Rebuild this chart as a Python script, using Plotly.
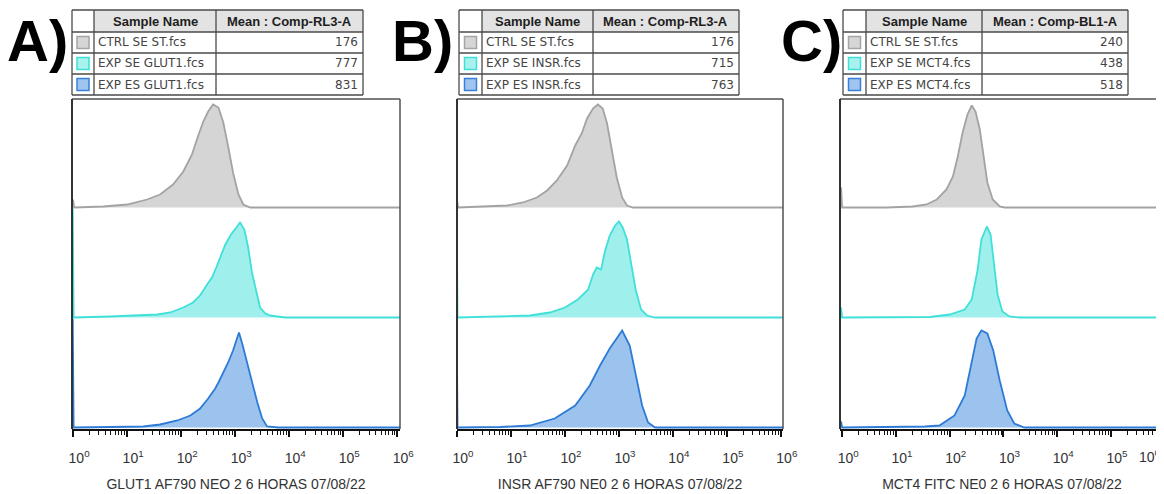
import plotly.graph_objects as go

OFF = 8                      # page body margin of the browser
W, H = 1164 - OFF, 494 - OFF

# ------------------------------------------------------------------ data
panel_letters = ["A)", "B)", "C)"]
axis_titles = ["GLUT1 AF790 NEO 2 6 HORAS 07/08/22",
               "INSR AF790 NE0 2 6 HORAS 07/08/22",
               "MCT4 FITC NE0 2 6 HORAS 07/08/22"]
mean_headers = ["Mean : Comp-RL3-A", "Mean : Comp-RL3-A", "Mean : Comp-BL1-A"]
names_A = ["CTRL SE ST.fcs", "EXP SE GLUT1.fcs", "EXP ES GLUT1.fcs"]
names_B = ["CTRL SE ST.fcs", "EXP SE INSR.fcs", "EXP ES INSR.fcs"]
names_C = ["CTRL SE ST.fcs", "EXP SE MCT4.fcs", "EXP ES MCT4.fcs"]
means_A = [176, 777, 831]
means_B = [176, 715, 763]
means_C = [240, 438, 518]

tick_exponents = [0, 1, 2, 3, 4, 5, 6]
tick_labels = ["10<sup>0</sup>", "10<sup>1</sup>", "10<sup>2</sup>", "10<sup>3</sup>",
               "10<sup>4</sup>", "10<sup>5</sup>", "10<sup>6</sup>"]

# histograms: log10 intensity (exponent) and height (relative count)
A_gray_e = [-0.02, 0.0, 0.02, 0.56, 1.0, 1.37, 1.61, 1.85, 2.04, 2.20, 2.31, 2.41, 2.50, 2.59,
            2.69, 2.78, 2.87, 2.96, 3.06, 3.15, 3.28, 6.2]
A_gray_h = [0, 8, 0, 1, 3, 8, 13, 23, 36, 53, 71, 86, 96, 103, 100, 85, 61, 35, 13, 3, 0, 0]
A_cyan_e = [-0.02, 0.01, 0.69, 1.24, 1.56, 1.80, 2.04, 2.22, 2.35, 2.48, 2.57, 2.65, 2.72, 2.81,
            2.91, 3.02, 3.09, 3.17, 3.24, 3.31, 3.39, 3.46, 3.56, 3.65, 3.78, 3.93, 6.2]
A_cyan_h = [200, 0, 1, 2, 3, 5, 10, 15, 22, 33, 40, 50, 60, 72, 82, 90, 95, 88, 70, 45, 25, 10,
            4, 2, 1, 0, 0]
A_blue_e = [-0.02, 0.01, 0.69, 1.30, 1.61, 1.93, 2.17, 2.35, 2.50, 2.63, 2.69, 2.78, 2.87, 2.96,
            3.07, 3.13, 3.22, 3.31, 3.41, 3.50, 3.59, 3.80, 6.2]
A_blue_h = [200, 0, 0.5, 1, 3, 7, 12, 19, 29, 39, 45, 55, 65, 77, 95, 84, 65, 45, 25, 9, 1, 0, 0]

B_gray_e = [-0.02, 0.0, 0.02, 0.57, 0.93, 1.22, 1.48, 1.67, 1.85, 2.04, 2.19, 2.31, 2.41, 2.52,
            2.61, 2.70, 2.78, 2.87, 2.96, 3.06, 3.15, 3.26, 6.2]
B_gray_h = [0, 8, 0, 1, 2, 5, 10, 17, 27, 42, 62, 74, 89, 99, 103, 99, 84, 57, 30, 10, 2, 0, 0]
B_cyan_e = [-0.02, 0.01, 1.35, 1.72, 2.00, 2.24, 2.43, 2.52, 2.59, 2.67, 2.74, 2.83, 2.93, 3.00,
            3.07, 3.15, 3.22, 3.31, 3.41, 3.52, 3.67, 6.2]
B_cyan_h = [200, 0, 2, 5, 10, 18, 28, 43, 50, 48, 66, 82, 92, 96, 90, 78, 56, 28, 8, 2, 0, 0]
B_blue_e = [-0.02, 0.01, 0.80, 1.35, 1.81, 2.19, 2.46, 2.65, 2.83, 2.94, 3.06, 3.20, 3.31, 3.43,
            3.54, 3.67, 6.2]
B_blue_h = [200, 0, 0.5, 2, 9, 22, 42, 62, 79, 88, 97, 82, 52, 22, 5, 0, 0]

C_gray_e = [-0.04, -0.02, 0.0, 0.83, 1.31, 1.57, 1.76, 1.94, 2.06, 2.15, 2.24, 2.33, 2.41, 2.48,
            2.56, 2.63, 2.70, 2.80, 2.93, 3.02, 6.2]
C_gray_h = [0, 20, 0, 0, 1, 3, 8, 18, 31, 51, 75, 93, 102, 96, 78, 51, 25, 8, 1, 0, 0]
C_cyan_e = [-0.04, -0.02, 0.0, 1.63, 2.00, 2.28, 2.41, 2.52, 2.59, 2.69, 2.76, 2.81, 2.89, 2.98,
            3.11, 3.30, 6.2]
C_cyan_h = [0, 10, 0, 0.5, 3, 8, 18, 48, 78, 91, 83, 58, 23, 6, 1, 0, 0]
C_blue_e = [-0.04, -0.02, 0.0, 1.07, 1.54, 1.81, 2.09, 2.28, 2.41, 2.50, 2.59, 2.70, 2.81, 2.93,
            3.07, 3.20, 3.39, 6.2]
C_blue_h = [0, 6, 0, 0.5, 1, 2, 12, 32, 67, 89, 97, 94, 77, 47, 17, 4, 0, 0]

# ------------------------------------------------------------------ styles
LINE_COLORS = ["#a3a3a3", "#3fe0d8", "#2e7bd6"]
FILL_COLORS = ["#d5d5d5", "#9ff0ec", "#9cc3ee"]
SW_FILL = ["#d6d6d6", "#a8f2ee", "#9fc4ef"]
SW_LINE = ["#a5a5a5", "#3ddfd6", "#3b80d8"]

panels = [
    dict(x0=72, x1=400, xr=[-0.02, 6.05], tbl=[72, 94, 216, 363], letter_x=5,
         curves=[(A_gray_e, A_gray_h), (A_cyan_e, A_cyan_h), (A_blue_e, A_blue_h)],
         names=names_A, means=means_A, right=True, edge_label=False),
    dict(x0=457, x1=783, xr=[0.0, 6.04], tbl=[459, 482, 593, 739], letter_x=390,
         curves=[(B_gray_e, B_gray_h), (B_cyan_e, B_cyan_h), (B_blue_e, B_blue_h)],
         names=names_B, means=means_B, right=True, edge_label=False),
    dict(x0=840, x1=1164, xr=[-0.04, 5.985], tbl=[843, 866, 982, 1128], letter_x=779,
         curves=[(C_gray_e, C_gray_h), (C_cyan_e, C_cyan_h), (C_blue_e, C_blue_h)],
         names=names_C, means=means_C, right=False, edge_label=True),
]

ROWS = [(99, 209), (209, 319), (319, 429)]   # pixel top/bottom of each stacked row (page px)
FONT = "Liberation Sans, Arial"


def px(x):
    return (x - OFF) / W


def py(y):
    return 1 - (y - OFF) / H


minor_vals = [k * 10 ** n for n in range(0, 6) for k in range(2, 10)]

fig = go.Figure()
layout = {}
shapes = []
annotations = []

for p, P in enumerate(panels):
    for r in range(3):
        k = p * 3 + r + 1
        e, h = P["curves"][r]
        fig.add_trace(go.Scatter(
            x=[10 ** v for v in e], y=h, mode="lines", fill="tozeroy",
            line=dict(color=LINE_COLORS[r], width=1.8),
            fillcolor=FILL_COLORS[r], xaxis=f"x{k}", yaxis=f"y{k}",
            showlegend=False, hoverinfo="skip"))
        top, bot = ROWS[r]
        xa = dict(domain=[px(P["x0"]), min(1.0, px(P["x1"]))], type="log", range=P["xr"],
                  anchor=f"y{k}", showgrid=False, zeroline=False, automargin=False)
        if r < 2:
            xa.update(visible=False)
        else:
            if P["edge_label"]:
                # the 10^6 label sits on the page edge: written right-aligned as an annotation
                vals = [10 ** t for t in tick_exponents[:-1]]
                txt = tick_labels[:-1]
                annotations.append(dict(text=tick_labels[-1], x=px(1162), y=py(456),
                                        xref="paper", yref="paper", showarrow=False,
                                        xanchor="right", yanchor="middle", borderpad=0,
                                        font=dict(family=FONT, size=14, color="#333")))
            else:
                vals = [10 ** t for t in tick_exponents]
                txt = tick_labels
            xa.update(
                showline=True, linecolor="#111", linewidth=2,
                ticks="outside", ticklen=6, tickwidth=2, tickcolor="#111",
                tickmode="array", tickvals=vals, ticktext=txt,
                ticklabeloverflow="allow", ticklabelshift=6, ticklabelstandoff=9,
                tickfont=dict(family=FONT, size=14, color="#333"),
                minor=dict(tickmode="array", tickvals=minor_vals, ticks="outside",
                           ticklen=4, tickwidth=1, tickcolor="#111", showgrid=False),
                title=dict(text=axis_titles[p], standoff=14,
                           font=dict(family=FONT, size=14, color="#333")),
            )
        layout[f"xaxis{k}"] = xa
        layout[f"yaxis{k}"] = dict(domain=[py(bot), py(top)], range=[-1.5, 108.5],
                                   anchor=f"x{k}", visible=False, fixedrange=True,
                                   automargin=False)

    # frame
    t, b = ROWS[0][0], ROWS[2][1]
    x1f = min(1.0, px(P["x1"]))
    shapes.append(dict(type="line", xref="paper", yref="paper", x0=px(P["x0"]), x1=x1f,
                       y0=py(t), y1=py(t), line=dict(color="#505050", width=1.5)))
    shapes.append(dict(type="line", xref="paper", yref="paper", x0=px(P["x0"]), x1=px(P["x0"]),
                       y0=py(t), y1=py(b), line=dict(color="#333", width=2)))
    if P["right"]:
        shapes.append(dict(type="line", xref="paper", yref="paper", x0=x1f, x1=x1f,
                           y0=py(t), y1=py(b), line=dict(color="#505050", width=1.5)))

    # table
    c0, c1, c2, c3 = P["tbl"]
    rl = [10, 32, 53, 74, 95]
    shapes.append(dict(type="rect", xref="paper", yref="paper", x0=px(c1), x1=px(c3),
                       y0=py(rl[1]), y1=py(rl[0]), fillcolor="#e3e3e3", line=dict(width=0),
                       layer="below"))
    for yy in rl:
        shapes.append(dict(type="line", xref="paper", yref="paper", x0=px(c0), x1=px(c3),
                           y0=py(yy), y1=py(yy), line=dict(color="#4a4a4a", width=1.3)))
    for xx in (c0, c1, c2, c3):
        shapes.append(dict(type="line", xref="paper", yref="paper", x0=px(xx), x1=px(xx),
                           y0=py(rl[0]), y1=py(rl[-1]), line=dict(color="#4a4a4a", width=1.3)))
    annotations.append(dict(text="<b>Sample Name</b>", x=px((c1 + c2) / 2), y=py((rl[0] + rl[1]) / 2),
                            xref="paper", yref="paper", showarrow=False, xanchor="center",
                            yanchor="middle", font=dict(family=FONT, size=13, color="#1e1e1e")))
    annotations.append(dict(text=f"<b>{mean_headers[p]}</b>", x=px((c2 + c3) / 2),
                            y=py((rl[0] + rl[1]) / 2), xref="paper", yref="paper",
                            showarrow=False, xanchor="center", yanchor="middle",
                            font=dict(family=FONT, size=13, color="#1e1e1e")))
    for i in range(3):
        yc = (rl[i + 1] + rl[i + 2]) / 2
        sx = (c0 + c1) / 2
        shapes.append(dict(type="rect", xref="paper", yref="paper", x0=px(sx - 6), x1=px(sx + 6),
                           y0=py(yc + 6), y1=py(yc - 6), fillcolor=SW_FILL[i],
                           line=dict(color=SW_LINE[i], width=1.5)))
        annotations.append(dict(text=P["names"][i], x=px(c1 + 2), y=py(yc), xref="paper",
                                yref="paper", showarrow=False, xanchor="left", yanchor="middle",
                                font=dict(family="DejaVu Sans", size=12, color="#444")))
        annotations.append(dict(text=str(P["means"][i]), x=px(c3 - 3), y=py(yc), xref="paper",
                                yref="paper", showarrow=False, xanchor="right", yanchor="middle",
                                font=dict(family="DejaVu Sans", size=12, color="#444")))

    annotations.append(dict(text=f"<b>{panel_letters[p]}</b>", x=px(P["letter_x"]), y=py(40),
                            xref="paper", yref="paper", showarrow=False, xanchor="left",
                            yanchor="middle", font=dict(family=FONT, size=58, color="#000")))

fig.update_layout(
    width=W, height=H, margin=dict(l=0, r=0, t=0, b=0, autoexpand=False),
    paper_bgcolor="white", plot_bgcolor="rgba(0,0,0,0)",
    shapes=shapes, annotations=annotations, **layout)

fig.write_html("out.html")
